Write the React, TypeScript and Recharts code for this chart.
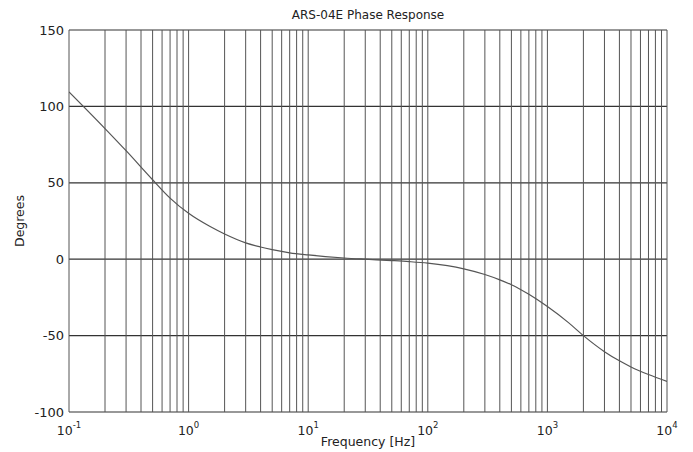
import { LineChart, Line, XAxis, YAxis, CartesianGrid, ReferenceLine } from 'recharts';

// phase curve (Hz, degrees)
const freqs = [
  0.1, 0.2, 0.3, 0.5, 0.7, 1, 1.5, 2, 3, 4, 5, 7, 10, 20, 30, 50, 70, 100, 200, 300, 400, 500, 700, 1000,
  1500, 2000, 3000, 4000, 5000, 7000, 10000,
];
const phase = [
  109.5, 85.5, 71, 52, 40, 30, 21.5, 16.5, 10.7, 8, 6.3, 4.2, 2.8, 0.8, 0, -0.9, -1.6, -2.6, -6.3, -10,
  -13.5, -16.7, -23, -31, -41.5, -50, -60.5, -66.5, -70.5, -75.5, -80,
];

const decadeTicks = [0.1, 1, 10, 100, 1000, 10000];
const exponents = ['-1', '0', '1', '2', '3', '4'];
const degreeTicks = [-100, -50, 0, 50, 100, 150];
const multipliers = [1, 2, 3, 4, 5, 6, 7, 8, 9];

const data = freqs.map((f, i) => ({ freq: f, phase: phase[i] }));
const gridFreqs = decadeTicks
  .slice(0, -1)
  .flatMap((d) => multipliers.map((m) => +(d * m).toPrecision(3)))
  .concat([10000]);

const FONT = '"DejaVu Sans", sans-serif';

function FreqTick(props: any) {
  const { x, y, payload } = props;
  const idx = decadeTicks.indexOf(payload.value);
  return (
    <text x={x} y={y + 21} textAnchor="middle" fontFamily={FONT} fontSize={12.5} fill="#222">
      <tspan>10</tspan>
      <tspan dy={-7} fontSize={8.5}>
        {exponents[idx]}
      </tspan>
    </text>
  );
}

export default function App() {
  return (
    <div style={{ position: 'absolute', left: 0, top: 0, width: 693, height: 452, background: '#fff' }}>
      <svg width={693} height={452} style={{ position: 'absolute', left: 0, top: 0 }}>
        <text x={368} y={19} textAnchor="middle" fontFamily={FONT} fontSize={12} fill="#222">
          ARS-04E Phase Response
        </text>
      </svg>
      <div style={{ position: 'absolute', left: 0, top: 0 }}>
        <LineChart width={693} height={452} data={data} margin={{ top: 30, right: 26, bottom: 0, left: 0 }}>
          <CartesianGrid vertical={false} stroke="#333" strokeWidth={1.2} />
          {gridFreqs.map((f) => (
            <ReferenceLine key={f} x={f} stroke="#555" strokeWidth={1} ifOverflow="extendDomain" />
          ))}
          <XAxis
            dataKey="freq"
            type="number"
            scale="log"
            domain={[0.1, 10000]}
            ticks={decadeTicks}
            tick={<FreqTick />}
            tickLine={false}
            axisLine={false}
            tickSize={0}
            height={40}
            interval={0}
            allowDataOverflow
            label={{
              value: 'Frequency [Hz]',
              position: 'insideBottom',
              offset: 6,
              style: { fontFamily: FONT, fontSize: 12.5, fill: '#222' },
            }}
          />
          <YAxis
            type="number"
            domain={[-100, 150]}
            ticks={degreeTicks}
            interval={0}
            width={69}
            tickLine={false}
            axisLine={false}
            tickSize={0}
            tickMargin={5}
            tick={{ fontFamily: FONT, fontSize: 13, fill: '#222' }}
            label={{
              content: ({ viewBox }: any) => {
                const cx = viewBox.x + 19;
                const cy = viewBox.y + viewBox.height / 2;
                return (
                  <text
                    x={cx}
                    y={cy}
                    transform={`rotate(-90 ${cx} ${cy})`}
                    textAnchor="middle"
                    dominantBaseline="central"
                    fontFamily={FONT}
                    fontSize={12.5}
                    fill="#222"
                  >
                    Degrees
                  </text>
                );
              },
            }}
          />
          <Line
            type="monotone"
            dataKey="phase"
            stroke="#555"
            strokeWidth={1.2}
            dot={false}
            isAnimationActive={false}
          />
        </LineChart>
      </div>
    </div>
  );
}
